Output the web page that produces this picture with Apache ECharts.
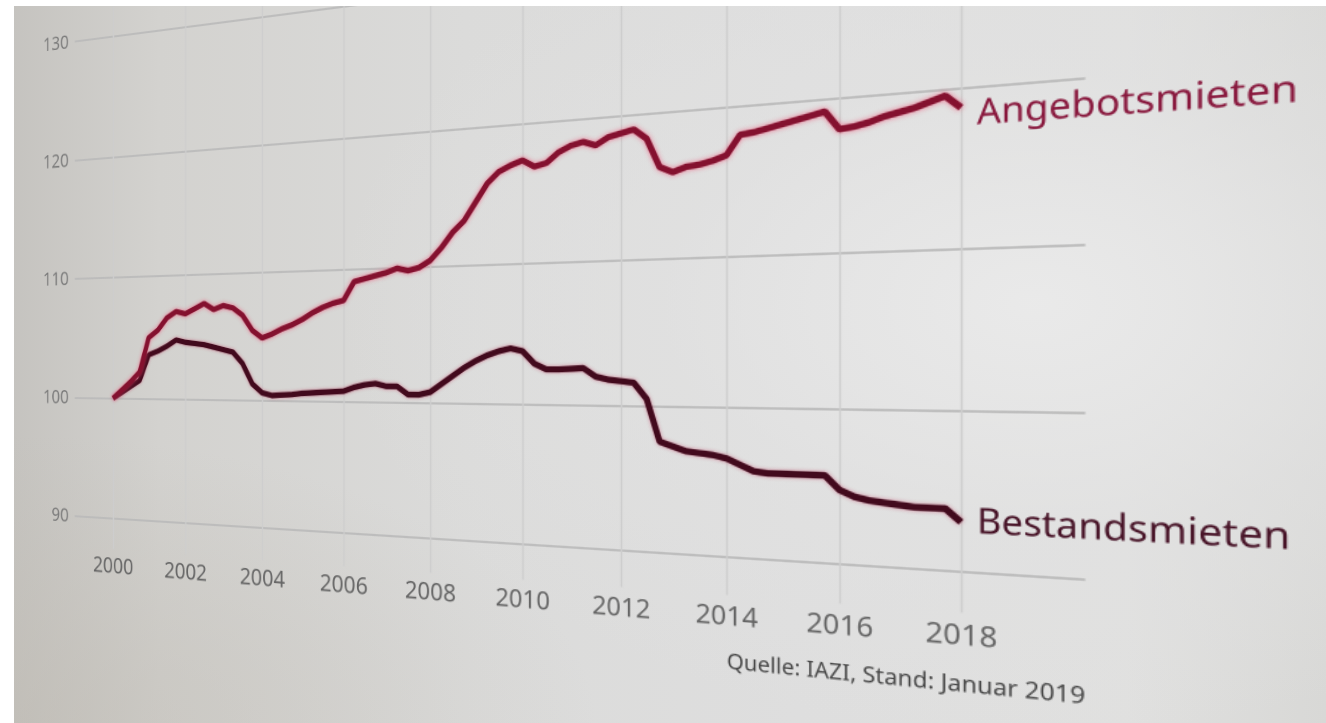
<!DOCTYPE html>
<html>
<head>
<meta charset="utf-8">
<script src="https://cdn.jsdelivr.net/npm/echarts@6/dist/echarts.min.js"></script>
<style>
  html, body { margin: 0; padding: 0; width: 1326px; height: 723px; overflow: hidden; background: #ffffff; }
  #frame {
    position: absolute; left: 0; top: 0; width: 1326px; height: 723px; overflow: hidden;
    clip-path: inset(6px 0 0 14px);
    background:
      radial-gradient(ellipse 70% 80% at 78% 42%, rgba(234,234,234,0.95) 0%, rgba(226,226,226,0.6) 40%, rgba(226,226,226,0) 75%),
      radial-gradient(ellipse 45% 40% at 0% 100%, rgba(190,186,178,0.55) 0%, rgba(190,186,178,0) 100%),
      linear-gradient(90deg, #c4c2be 0%, #d3d2cf 12%, #dbdbda 35%, #dedede 60%, #e0e0df 85%, #d8d8d6 100%);
  }
  #chart { position: absolute; left: 0; top: 0; width: 1200px; height: 700px; transform-origin: 0 0; }
</style>
</head>
<body>
<div id="frame"><div id="chart"></div></div>
<script>
// Quarterly index values, 2000 = 100
const quarters = [
  2000, 2000.25, 2000.5, 2000.75, 2001, 2001.25, 2001.5, 2001.75,
  2002, 2002.25, 2002.5, 2002.75, 2003, 2003.25, 2003.5, 2003.75,
  2004, 2004.25, 2004.5, 2004.75, 2005, 2005.25, 2005.5, 2005.75,
  2006, 2006.25, 2006.5, 2006.75, 2007, 2007.25, 2007.5, 2007.75,
  2008, 2008.25, 2008.5, 2008.75, 2009, 2009.25, 2009.5, 2009.75,
  2010, 2010.25, 2010.5, 2010.75, 2011, 2011.25, 2011.5, 2011.75,
  2012, 2012.25, 2012.5, 2012.75, 2013, 2013.25, 2013.5, 2013.75,
  2014, 2014.25, 2014.5, 2014.75, 2015, 2015.25, 2015.5, 2015.75,
  2016, 2016.25, 2016.5, 2016.75, 2017, 2017.25, 2017.5, 2017.75,
  2018
];
const angebotsmieten = [
  100.0, 100.7, 101.4, 102.2, 105.0, 105.6, 106.6, 107.1,
  106.9, 107.3, 107.7, 107.2, 107.5, 107.3, 106.7, 105.5,
  104.9, 105.2, 105.6, 105.9, 106.3, 106.8, 107.2, 107.5,
  107.7, 109.1, 109.3, 109.5, 109.7, 110.0, 109.8, 110.0,
  110.5, 111.4, 112.5, 113.3, 114.6, 115.9, 116.7, 117.1,
  117.4, 116.9, 117.1, 117.8, 118.2, 118.4, 118.1, 118.6,
  118.8, 119.0, 118.3, 116.3, 115.9, 116.2, 116.3, 116.5,
  116.8, 118.1, 118.2, 118.4, 118.6, 118.8, 119.0, 119.2,
  118.0, 118.1, 118.3, 118.6, 118.8, 119.0, 119.3, 119.6,
  118.8
];
const bestandsmieten = [
  100.0, 100.5, 101.0, 101.5, 103.6, 103.9, 104.3, 104.8,
  104.6, 104.5, 104.4, 104.2, 104.0, 103.8, 102.9, 101.3,
  100.6, 100.4, 100.45, 100.5, 100.6, 100.65, 100.7, 100.75,
  100.8, 101.1, 101.3, 101.4, 101.2, 101.2, 100.6, 100.6,
  100.8, 101.4, 102.0, 102.6, 103.1, 103.5, 103.8, 104.0,
  103.8, 102.9, 102.5, 102.5, 102.55, 102.6, 102.0, 101.8,
  101.7, 101.6, 100.5, 97.6, 97.3, 97.0, 96.9, 96.8,
  96.6, 96.2, 95.8, 95.7, 95.7, 95.7, 95.7, 95.7,
  94.8, 94.4, 94.2, 94.1, 94.0, 93.9, 93.9, 93.9,
  93.1
];
const seriesNames = ['Angebotsmieten', 'Bestandsmieten'];
const yearTicks = { min: 2000, max: 2018, step: 2 };
const valueTicks = { min: 90, max: 130, step: 10 };
const sourceNote = 'Quelle: IAZI, Stand: Januar 2019';

// Flat layout of the chart plane (px per year / per index point)
const KX = 44, KY = 12.05;
const X0 = 140;              // x of year 2000
const TOP_V = 134, TOP_Y = 20;
const xOf = yr => X0 + (yr - 2000) * KX;
const yOf = v => TOP_Y + (TOP_V - v) * KY;
const X_MIN = 1998.9, X_MAX = 2019.9, V_LOW = 87.5;

// Camera view of the plane: the right side sits closer to the viewer
const VIEW = { x0: 113, ax: 33.6, y0: 398.3, ey: -5.08, fy: -12.05, c: -0.01406 };
function project(t, s) {
  const w = 1 + VIEW.c * t;
  return [(VIEW.ax * t + VIEW.x0) / w, (VIEW.ey * t + VIEW.fy * s + VIEW.y0) / w];
}

const font = '"Noto Sans", "Open Sans", sans-serif';
const pairs = arr => quarters.map((q, i) => [q, arr[i]]);

const chart = echarts.init(document.getElementById('chart'), null, { renderer: 'canvas', devicePixelRatio: 2 });
chart.setOption({
  animation: false,
  backgroundColor: 'transparent',
  title: {
    text: sourceNote,
    right: 1200 - xOf(X_MAX),
    top: yOf(82.85) - 11,
    padding: 0,
    textStyle: { fontFamily: font, fontSize: 17.5, fontWeight: 'normal', color: '#474747' }
  },
  grid: [
    { left: xOf(X_MIN), width: (X_MAX - X_MIN) * KX, top: yOf(valueTicks.max), height: (valueTicks.max - valueTicks.min) * KY, containLabel: false },
    { left: xOf(yearTicks.min), width: (yearTicks.max - yearTicks.min) * KX, top: TOP_Y, height: (TOP_V - V_LOW) * KY, containLabel: false }
  ],
  xAxis: [
    { gridIndex: 0, type: 'value', min: X_MIN, max: X_MAX, show: false },
    {
      gridIndex: 1, type: 'value', min: yearTicks.min, max: yearTicks.max, interval: yearTicks.step,
      axisLine: { show: false }, axisTick: { show: false },
      axisLabel: { margin: 7, fontFamily: font, fontSize: 22, color: '#656565', formatter: v => String(v) },
      splitLine: { show: true, lineStyle: { color: '#cdcdcd', width: 1.4 } }
    }
  ],
  yAxis: [
    {
      gridIndex: 0, type: 'value', min: valueTicks.min, max: valueTicks.max, interval: valueTicks.step,
      axisLine: { show: false }, axisTick: { show: false },
      axisLabel: { margin: 8, fontFamily: font, fontSize: 19.5, color: '#7a7a7a' },
      splitLine: { show: true, lineStyle: { color: '#bababa', width: 1.7 } }
    },
    { gridIndex: 1, type: 'value', min: V_LOW, max: TOP_V, show: false }
  ],
  series: [
    {
      name: seriesNames[1], type: 'line', xAxisIndex: 0, yAxisIndex: 0,
      data: pairs(bestandsmieten), showSymbol: false, z: 3,
      lineStyle: { color: '#420a1d', width: 5.2, shadowBlur: 3, shadowColor: 'rgba(190,40,80,0.5)' },
      endLabel: { show: true, formatter: '{a}', distance: 11, fontFamily: font, fontSize: 26, color: '#471327' }
    },
    {
      name: seriesNames[0], type: 'line', xAxisIndex: 0, yAxisIndex: 0,
      data: pairs(angebotsmieten), showSymbol: false, z: 4,
      lineStyle: { color: '#84112f', width: 5.2, shadowBlur: 4, shadowColor: 'rgba(240,70,110,0.7)' },
      endLabel: { show: true, formatter: '{a}', distance: 11, offset: [0, 6], fontFamily: font, fontSize: 26, color: '#88183d' }
    }
  ]
});

// Map the flat plane onto the camera view with a projective transform
function homography(src, dst) {
  const A = [], b = [];
  for (let i = 0; i < 4; i++) {
    const [X, Y] = src[i], [x, y] = dst[i];
    A.push([X, Y, 1, 0, 0, 0, -x * X, -x * Y]); b.push(x);
    A.push([0, 0, 0, X, Y, 1, -y * X, -y * Y]); b.push(y);
  }
  const n = 8;
  for (let c = 0; c < n; c++) {
    let p = c;
    for (let r = c + 1; r < n; r++) if (Math.abs(A[r][c]) > Math.abs(A[p][c])) p = r;
    [A[c], A[p]] = [A[p], A[c]]; [b[c], b[p]] = [b[p], b[c]];
    for (let r = 0; r < n; r++) {
      if (r === c) continue;
      const f = A[r][c] / A[c][c];
      for (let k = c; k < n; k++) A[r][k] -= f * A[c][k];
      b[r] -= f * b[c];
    }
  }
  return b.map((v, i) => v / A[i][i]);
}
const anchors = [[2000, 130], [2018, 130], [2000, 90], [2018, 90]];
const src = anchors.map(a => chart.convertToPixel({ gridIndex: 0 }, a));
const dst = anchors.map(a => project(a[0] - 2000, a[1] - 100));
const h = homography(src, dst);
document.getElementById('chart').style.transform =
  `matrix3d(${h[0]},${h[3]},0,${h[6]},${h[1]},${h[4]},0,${h[7]},0,0,1,0,${h[2]},${h[5]},0,1)`;
</script>
</body>
</html>
